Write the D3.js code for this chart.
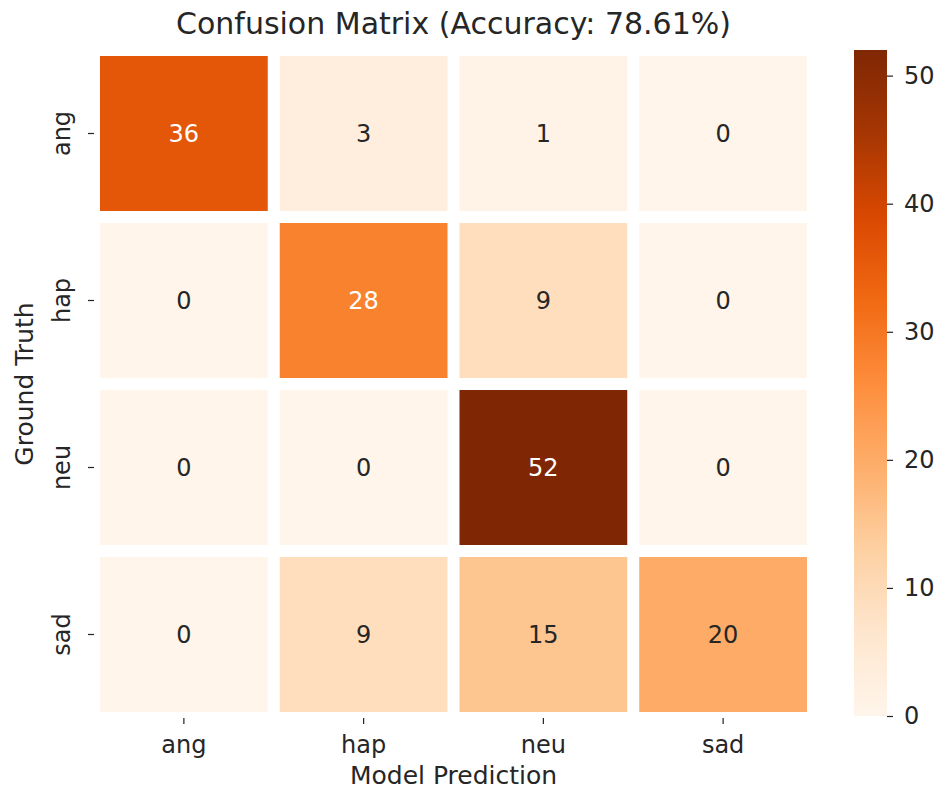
<!DOCTYPE html>
<html>
<head>
<meta charset="utf-8">
<script src="https://cdn.jsdelivr.net/npm/d3@7"></script>
<style>
  html, body { margin: 0; padding: 0; background: #fff; }
  svg text { font-family: "DejaVu Sans", sans-serif; }
</style>
</head>
<body>
<div id="chart"></div>
<script>
const classes = ['ang', 'hap', 'neu', 'sad'];
// rows = ground truth, columns = model prediction
const rowAng = [36, 3, 1, 0];
const rowHap = [0, 28, 9, 0];
const rowNeu = [0, 0, 52, 0];
const rowSad = [0, 9, 15, 20];
const counts = [rowAng, rowHap, rowNeu, rowSad];
const colorbarTicks = [0, 10, 20, 30, 40, 50];
const accuracy = '78.61%';

// matplotlib "Oranges" stops
const oranges = ['#fff5eb', '#fee6ce', '#fdd0a2', '#fdae6b', '#fd8d3c', '#f16913', '#d94801', '#a63603', '#7f2704'];

const W = 938, H = 789;
const m = { t: 50, r: 125, b: 71, l: 94 };
const vmax = d3.max(counts.flat());
const FS = 24;
const textColor = '#262626';

const svg = d3.select('#chart').append('svg').attr('width', W).attr('height', H);

const x = d3.scaleBand().domain(classes).range([m.l, W - m.r]);
const y = d3.scaleBand().domain(classes).range([m.t, H - m.b]);
const color = d3.scaleLinear()
  .domain(oranges.map((_, i) => (i / (oranges.length - 1)) * vmax))
  .range(oranges)
  .clamp(true);

const cells = [];
counts.forEach((row, i) => row.forEach((v, j) => cells.push({ truth: classes[i], pred: classes[j], v })));

const gap = 12;
svg.append('g')
  .selectAll('rect')
  .data(cells)
  .join('rect')
  .attr('x', (d) => x(d.pred) + gap / 2)
  .attr('y', (d) => y(d.truth) + gap / 2)
  .attr('width', x.bandwidth() - gap)
  .attr('height', y.bandwidth() - gap)
  .attr('fill', (d) => color(d.v));

function lum(c) {
  const rgb = d3.rgb(c);
  const f = (u) => { u /= 255; return u <= 0.03928 ? u / 12.92 : Math.pow((u + 0.055) / 1.055, 2.4); };
  return 0.2126 * f(rgb.r) + 0.7152 * f(rgb.g) + 0.0722 * f(rgb.b);
}

svg.append('g')
  .selectAll('text')
  .data(cells)
  .join('text')
  .attr('x', (d) => x(d.pred) + x.bandwidth() / 2)
  .attr('y', (d) => y(d.truth) + y.bandwidth() / 2)
  .attr('text-anchor', 'middle')
  .attr('dominant-baseline', 'central')
  .attr('font-size', FS)
  .attr('fill', (d) => (lum(color(d.v)) > 0.408 ? textColor : '#ffffff'))
  .text((d) => d.v);

// axes
const xAxis = svg.append('g')
  .attr('transform', `translate(0,${H - m.b})`)
  .call(d3.axisBottom(x).tickSize(6));
const yAxis = svg.append('g')
  .attr('transform', `translate(${m.l},0)`)
  .call(d3.axisLeft(y).tickSize(6));
[xAxis, yAxis].forEach((g) => {
  g.select('.domain').remove();
  g.selectAll('line').attr('stroke', '#222').attr('stroke-width', 1.2);
  g.selectAll('text').attr('font-size', FS).attr('fill', textColor);
});
xAxis.selectAll('.tick text').attr('y', 35).attr('dy', 0);
yAxis.selectAll('.tick text')
  .attr('transform', 'rotate(-90)')
  .attr('x', 0)
  .attr('y', -24)
  .attr('dy', 0)
  .attr('text-anchor', 'middle');

svg.append('text')
  .attr('x', (m.l + W - m.r) / 2)
  .attr('y', 784)
  .attr('text-anchor', 'middle')
  .attr('font-size', 25)
  .attr('fill', textColor)
  .text('Model Prediction');

svg.append('text')
  .attr('transform', `translate(33,${(m.t + H - m.b) / 2}) rotate(-90)`)
  .attr('text-anchor', 'middle')
  .attr('font-size', 25)
  .attr('fill', textColor)
  .text('Ground Truth');

svg.append('text')
  .attr('x', (m.l + W - m.r) / 2)
  .attr('y', 34)
  .attr('text-anchor', 'middle')
  .attr('font-size', 30)
  .attr('fill', textColor)
  .text(`Confusion Matrix (Accuracy: ${accuracy})`);

// colorbar
const cb = { x: 854, w: 33, top: 50, bottom: 716 };
const cbScale = d3.scaleLinear().domain([0, vmax]).range([cb.bottom, cb.top]);
const defs = svg.append('defs');
const grad = defs.append('linearGradient')
  .attr('id', 'cbGrad')
  .attr('x1', 0).attr('y1', 1).attr('x2', 0).attr('y2', 0);
grad.selectAll('stop')
  .data(oranges)
  .join('stop')
  .attr('offset', (_, i) => i / (oranges.length - 1))
  .attr('stop-color', (c) => c);
svg.append('rect')
  .attr('x', cb.x)
  .attr('y', cb.top)
  .attr('width', cb.w)
  .attr('height', cb.bottom - cb.top)
  .attr('fill', 'url(#cbGrad)');
const cbAxis = svg.append('g')
  .attr('transform', `translate(${cb.x + cb.w},0)`)
  .call(d3.axisRight(cbScale).tickValues(colorbarTicks).tickSize(6).tickPadding(11));
cbAxis.select('.domain').remove();
cbAxis.selectAll('line').attr('stroke', '#222').attr('stroke-width', 1.2);
cbAxis.selectAll('text').attr('font-size', FS).attr('fill', textColor);
</script>
</body>
</html>
